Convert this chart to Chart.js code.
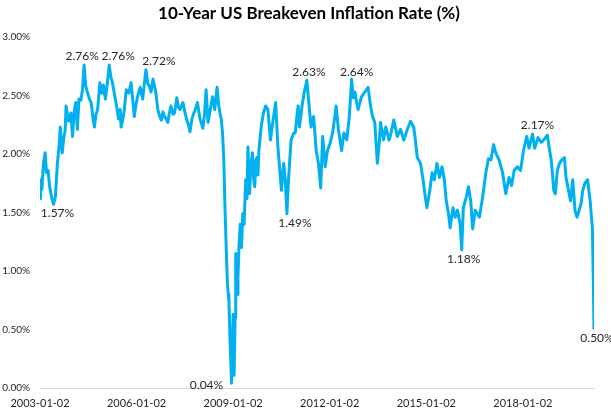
<!DOCTYPE html>
<html>
<head>
<meta charset="utf-8">
<script src="https://cdn.jsdelivr.net/npm/chart.js@4.4.1/dist/chart.umd.min.js"></script>
<style>
  html, body { margin:0; padding:0; background:#fff; }
  #wrap { width:611px; height:417px; position:relative; }
</style>
</head>
<body>
<div id="wrap"><canvas id="beChart" width="611" height="417"></canvas></div>
<script>
// ═══════════════════════════════════════════════════
//  DATA  (decimal years)
// ═══════════════════════════════════════════════════
const TITLE = '10-Year US Breakeven Inflation Rate (%)';

const years = [
  2003.00,2003.02,2003.06,2003.11,2003.16,2003.20,2003.25,2003.30,2003.36,2003.42,
  2003.48,2003.54,2003.59,2003.63,2003.69,2003.74,2003.78,2003.81,2003.89,2003.96,
  2004.01,2004.06,2004.11,2004.16,2004.21,2004.27,2004.32,2004.37,2004.42,2004.47,
  2004.54,2004.59,2004.65,2004.69,2004.74,2004.79,2004.86,2004.92,2004.97,2005.03,
  2005.09,2005.15,2005.20,2005.25,2005.32,2005.38,2005.44,2005.49,2005.52,2005.58,
  2005.62,2005.68,2005.76,2005.83,2005.93,2005.98,2006.03,2006.11,2006.19,2006.24,
  2006.29,2006.35,2006.40,2006.45,2006.51,2006.59,2006.66,2006.71,2006.77,2006.82,
  2006.87,2006.92,2006.97,2007.02,2007.07,2007.13,2007.18,2007.25,2007.30,2007.35,
  2007.44,2007.50,2007.56,2007.61,2007.66,2007.72,2007.78,2007.84,2007.89,2007.97,
  2008.06,2008.11,2008.16,2008.22,2008.26,2008.36,2008.43,2008.50,2008.55,2008.59,
  2008.63,2008.67,2008.71,2008.74,2008.79,2008.82,2008.85,2008.87,2008.90,2008.93,
  2008.95,2008.98,2009.00,2009.03,2009.06,2009.08,2009.12,2009.15,2009.18,2009.22,
  2009.26,2009.30,2009.34,2009.39,2009.43,2009.46,2009.51,2009.55,2009.60,2009.64,
  2009.67,2009.71,2009.74,2009.77,2009.80,2009.87,2009.94,2010.01,2010.08,2010.16,
  2010.24,2010.32,2010.39,2010.45,2010.50,2010.57,2010.62,2010.67,2010.72,2010.76,
  2010.80,2010.88,2010.93,2010.98,2011.02,2011.06,2011.14,2011.21,2011.29,2011.33,
  2011.37,2011.42,2011.50,2011.58,2011.65,2011.72,2011.78,2011.86,2011.93,2012.01,
  2012.09,2012.15,2012.20,2012.27,2012.37,2012.44,2012.53,2012.61,2012.68,2012.73,
  2012.78,2012.83,2012.88,2012.99,2013.09,2013.19,2013.27,2013.33,2013.40,2013.48,
  2013.54,2013.58,2013.67,2013.74,2013.79,2013.84,2013.89,2013.99,2014.10,2014.20,
  2014.30,2014.41,2014.51,2014.61,2014.66,2014.72,2014.82,2014.90,2014.97,2015.02,
  2015.11,2015.18,2015.25,2015.33,2015.41,2015.49,2015.56,2015.62,2015.69,2015.74,
  2015.83,2015.90,2015.97,2016.05,2016.10,2016.15,2016.24,2016.31,2016.38,2016.44,
  2016.52,2016.65,2016.75,2016.85,2016.93,2017.01,2017.09,2017.16,2017.26,2017.37,
  2017.47,2017.57,2017.65,2017.73,2017.83,2017.93,2018.02,2018.12,2018.19,2018.30,
  2018.37,2018.47,2018.57,2018.65,2018.76,2018.82,2018.88,2018.91,2018.96,2019.01,
  2019.07,2019.14,2019.21,2019.29,2019.34,2019.41,2019.48,2019.55,2019.62,2019.68,
  2019.75,2019.81,2019.86,2019.93,2020.01,2020.09,2020.13,2020.16,2020.19,2020.21,
];

const rates = [
  1.62,1.78,1.70,1.93,2.01,1.84,1.86,1.72,1.63,1.57,
  1.64,1.92,2.06,2.23,2.01,2.14,2.20,2.41,2.28,2.35,
  2.15,2.36,2.44,2.21,2.47,2.46,2.55,2.76,2.58,2.53,
  2.47,2.44,2.30,2.23,2.34,2.38,2.61,2.52,2.59,2.47,
  2.60,2.76,2.66,2.61,2.50,2.41,2.30,2.38,2.23,2.31,
  2.38,2.55,2.52,2.61,2.32,2.42,2.49,2.57,2.47,2.60,
  2.72,2.60,2.58,2.53,2.64,2.54,2.38,2.33,2.29,2.36,
  2.32,2.30,2.27,2.35,2.41,2.34,2.35,2.48,2.40,2.38,
  2.44,2.36,2.29,2.25,2.19,2.30,2.35,2.39,2.44,2.30,
  2.22,2.34,2.55,2.27,2.33,2.49,2.38,2.57,2.42,2.35,
  2.30,2.18,1.95,1.60,1.15,0.91,0.80,0.74,0.45,0.20,
  0.04,0.40,0.63,0.11,0.60,1.15,0.80,0.95,1.20,1.40,
  1.20,1.49,1.40,1.78,1.62,2.06,1.66,1.90,2.01,1.78,
  1.72,1.95,1.97,1.82,2.03,2.23,2.35,2.41,2.38,2.12,
  2.29,2.44,2.06,1.86,1.69,1.92,1.78,1.49,1.78,1.95,
  2.12,2.18,2.18,2.32,2.41,2.23,2.41,2.53,2.63,2.50,
  2.38,2.23,2.32,2.03,1.92,1.71,2.15,1.89,2.03,2.09,
  2.18,2.30,2.41,2.21,2.03,2.18,2.12,2.32,2.64,2.48,
  2.53,2.45,2.38,2.49,2.53,2.57,2.41,2.32,2.27,1.92,
  2.10,2.27,2.12,2.23,2.18,2.12,2.16,2.29,2.15,2.21,
  2.12,2.21,2.28,2.23,2.12,1.97,1.92,1.78,1.63,1.54,
  1.69,1.84,1.78,1.92,1.80,1.89,1.78,1.60,1.49,1.37,
  1.54,1.46,1.52,1.40,1.18,1.54,1.63,1.72,1.60,1.36,
  1.52,1.46,1.63,1.84,1.96,1.95,2.08,2.01,1.95,1.84,
  1.66,1.80,1.73,1.86,1.89,1.86,2.03,2.15,2.05,2.17,
  2.05,2.14,2.10,2.12,2.16,2.05,1.95,1.86,1.69,1.66,
  1.86,1.92,1.95,1.97,1.80,1.70,1.60,1.78,1.52,1.46,
  1.52,1.58,1.69,1.75,1.78,1.60,1.46,1.37,0.89,0.50,
];

// x-axis labels
const tickYears  = [2003, 2006, 2009, 2012, 2015, 2018];
const tickLabels = ['2003-01-02','2006-01-02','2009-01-02','2012-01-02','2015-01-02','2018-01-02'];
const yTicks     = [0, 0.5, 1, 1.5, 2, 2.5, 3];

// labelled highs / lows
const noteYears  = [2003.42, 2004.37, 2005.15, 2006.29, 2008.95, 2010.67, 2011.29, 2012.68, 2016.10, 2018.30, 2020.21];

// ─── Styling ─────────────────────────────────────────
const LINE_COLOR = '#00B0F0';
const TEXT_COLOR = '#262626';
const FONT       = 'Lato';
// label centre offset from its point, px
const NOTE_OFFSET = [
  [ 4,  9], [-2, -9], [ 9, -9], [13, -9], [-25, 2], [ 8, 9],
  [ 2, -8], [ 5, -7], [ 2,  9], [ 5, -9], [ 3,  9],
];

// ─── Plugins ─────────────────────────────────────────
const titlePlugin = {
  id: 'titleText',
  afterDraw(chart) {
    const ctx = chart.ctx;
    ctx.save();
    ctx.fillStyle = '#000';
    ctx.font = `bold 17px ${FONT}`;
    ctx.textAlign = 'center';
    ctx.textBaseline = 'middle';
    ctx.fillText(TITLE, 309, 14);
    ctx.restore();
  },
};

const notesPlugin = {
  id: 'notes',
  afterDatasetsDraw(chart) {
    const ctx = chart.ctx, xs = chart.scales.x, ys = chart.scales.y;
    ctx.save();
    ctx.fillStyle = TEXT_COLOR;
    ctx.font = `12px ${FONT}`;
    ctx.textAlign = 'center';
    ctx.textBaseline = 'middle';
    noteYears.forEach((yr, i) => {
      const idx = years.indexOf(yr);
      if (idx < 0) return;
      const [dx, dy] = NOTE_OFFSET[i];
      const px = xs.getPixelForValue(yr) + dx;
      const py = ys.getPixelForValue(rates[idx]) + dy;
      ctx.fillText(rates[idx].toFixed(2) + '%', px, py);
    });
    ctx.restore();
  },
};

// ─── Chart ───────────────────────────────────────────
new Chart(document.getElementById('beChart'), {
  type: 'line',
  data: {
    datasets: [{
      data: years.map((x, i) => ({ x, y: rates[i] })),
      borderColor: LINE_COLOR,
      borderWidth: 3,
      pointRadius: 0,
      tension: 0,
      borderJoinStyle: 'round',
    }],
  },
  options: {
    responsive: false, animation: false,
    layout: { padding: { top: 37, right: 17, bottom: 0, left: 0 } },
    plugins: { legend: { display: false }, tooltip: { enabled: false } },
    scales: {
      x: {
        type: 'linear',
        min: years[0], max: years[years.length - 1],
        afterBuildTicks: s => { s.ticks = tickYears.map(v => ({ value: v })); },
        afterFit: s => { s.height = 29; },
        ticks: {
          autoSkip: false, maxRotation: 0, padding: 9,
          color: TEXT_COLOR, font: { size: 11, family: FONT },
          callback: (v) => tickLabels[tickYears.indexOf(v)],
        },
        grid: { display: false, drawTicks: false },
        border: { color: '#D9D9D9', width: 1 },
      },
      y: {
        min: 0, max: 3,
        afterBuildTicks: s => { s.ticks = yTicks.map(v => ({ value: v })); },
        afterFit: s => { s.width = 40; },
        ticks: {
          padding: 10,
          color: TEXT_COLOR, font: { size: 10, family: FONT },
          callback: v => v.toFixed(2) + '%',
        },
        grid: { display: false, drawTicks: false },
        border: { display: false },
      },
    },
  },
  plugins: [titlePlugin, notesPlugin],
});
</script>
</body>
</html>
